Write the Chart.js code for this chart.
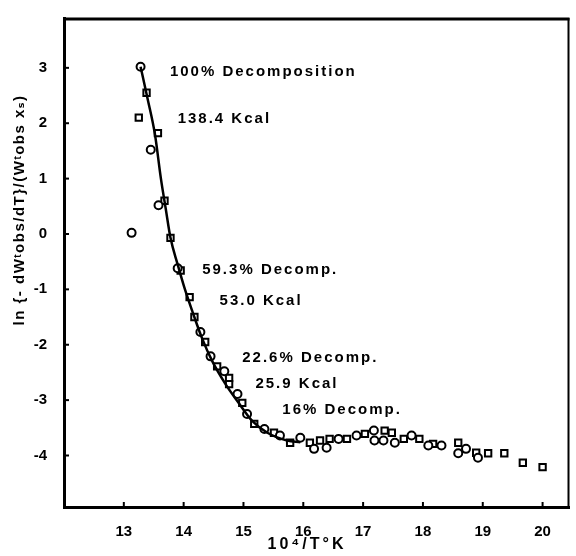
<!DOCTYPE html>
<html>
<head>
<meta charset="utf-8">
<script src="https://cdn.jsdelivr.net/npm/chart.js@4/dist/chart.umd.min.js"></script>
<style>
  html, body { margin: 0; padding: 0; background: #fff; }
  #wrap { width: 576px; height: 556px; position: relative; }
</style>
</head>
<body>
<div id="wrap"><canvas id="arrhenius"></canvas></div>
<script>
// tick positions
const xTicks = [13, 14, 15, 16, 17, 18, 19, 20];
const yTicks = [-4, -3, -2, -1, 0, 1, 2, 3];

// open circles
const circleX = [13.28, 13.45, 13.58, 13.13, 13.9, 14.28, 14.45, 14.68, 14.9, 15.06, 15.35,
  15.61, 15.95, 16.18, 16.39, 16.59, 16.89, 17.18, 17.19, 17.34, 17.53, 17.81, 18.09, 18.31, 18.59, 18.72, 18.92];
const circleY = [3.02, 1.52, 0.52, 0.02, -0.62, -1.77, -2.21, -2.48, -2.89, -3.25, -3.52,
  -3.64, -3.68, -3.88, -3.86, -3.7, -3.64, -3.55, -3.73, -3.73, -3.77, -3.64, -3.82, -3.82, -3.96, -3.88, -4.04];

// open squares
const squareX = [13.38, 13.25, 13.57, 13.68, 13.78, 13.95, 14.1, 14.18, 14.36, 14.56, 14.76, 14.76, 14.98, 15.18, 15.51,
  15.78, 16.11, 16.28, 16.44, 16.73, 17.03, 17.36, 17.48, 17.68, 17.94, 18.17, 18.59, 18.89, 19.09, 19.36, 19.67, 20.0];
const squareY = [2.55, 2.1, 1.82, 0.6, -0.07, -0.66, -1.14, -1.5, -1.95, -2.39, -2.6, -2.71, -3.05, -3.43, -3.59,
  -3.77, -3.77, -3.73, -3.7, -3.7, -3.61, -3.55, -3.59, -3.7, -3.7, -3.79, -3.77, -3.95, -3.96, -3.96, -4.13, -4.21];

// smooth curve drawn through the points
const fitX = [13.28, 13.4, 13.52, 13.62, 13.7, 13.78, 13.9, 14.01, 14.15, 14.31, 14.48, 14.7, 14.9, 15.15, 15.4, 15.73, 15.95];
const fitY = [3.02, 2.43, 1.8, 1.0, 0.46, -0.07, -0.55, -0.96, -1.41, -1.89, -2.3, -2.71, -3.02, -3.38, -3.59, -3.73, -3.76];

// annotations along the curve (text, left x, middle y in data units)
const noteText = ['100% Decomposition', '138.4 Kcal', '59.3% Decomp.', '53.0 Kcal', '22.6% Decomp.', '25.9 Kcal', '16% Decomp.'];
const noteX = [13.77, 13.9, 14.31, 14.6, 14.98, 15.2, 15.65];
const noteY = [2.93, 2.07, -0.64, -1.21, -2.23, -2.7, -3.18];

const FONT = '"Liberation Sans", "DejaVu Sans", sans-serif';

function pts(xs, ys) {
  return xs.map((x, i) => ({ x: x, y: ys[i] }));
}

const decorations = {
  id: 'decorations',
  afterDraw(chart) {
    const ctx = chart.ctx;
    const a = chart.chartArea;
    const sx = chart.scales.x, sy = chart.scales.y;
    ctx.save();
    ctx.strokeStyle = '#000';
    ctx.fillStyle = '#000';

    // top and right edges of the frame
    ctx.lineWidth = 3;
    ctx.beginPath();
    ctx.moveTo(a.left, a.top + 1);
    ctx.lineTo(a.right, a.top + 1);
    ctx.stroke();
    ctx.lineWidth = 2;
    ctx.beginPath();
    ctx.moveTo(a.right - 1, a.top);
    ctx.lineTo(a.right - 1, a.bottom);
    ctx.stroke();

    // short inward tick marks
    ctx.lineWidth = 2;
    xTicks.forEach(v => {
      const px = sx.getPixelForValue(v);
      ctx.beginPath();
      ctx.moveTo(px, a.bottom);
      ctx.lineTo(px, a.bottom - 5);
      ctx.stroke();
    });
    yTicks.forEach(v => {
      const py = sy.getPixelForValue(v);
      ctx.beginPath();
      ctx.moveTo(a.left, py);
      ctx.lineTo(a.left + 5, py);
      ctx.stroke();
    });

    // notes
    ctx.font = 'bold 15px ' + FONT;
    ctx.letterSpacing = '2px';
    ctx.textAlign = 'left';
    ctx.textBaseline = 'middle';
    noteText.forEach((t, i) => {
      ctx.fillText(t, sx.getPixelForValue(noteX[i]), sy.getPixelForValue(noteY[i]));
    });

    // axis titles
    ctx.font = 'bold 16px ' + FONT;
    ctx.letterSpacing = '3px';
    ctx.textAlign = 'center';
    ctx.fillText('10\u2074/T\u00B0K', 307, 545);

    ctx.translate(20, 210);
    ctx.rotate(-Math.PI / 2);
    ctx.font = 'bold 15px ' + FONT;
    ctx.letterSpacing = '1.5px';
    ctx.fillText('ln {- dW\u1D57obs/dT}/(W\u1D57obs x\u209B)', 0, 0);
    ctx.restore();
  }
};

new Chart(document.getElementById('arrhenius'), {
  type: 'scatter',
  data: {
    datasets: [
      {
        type: 'line',
        label: 'fit',
        data: pts(fitX, fitY),
        borderColor: '#000',
        borderWidth: 2.5,
        pointRadius: 0,
        cubicInterpolationMode: 'monotone',
        fill: false
      },
      {
        label: 'circles',
        data: pts(circleX, circleY),
        pointStyle: 'circle',
        pointRadius: 4,
        borderColor: '#000',
        borderWidth: 2,
        backgroundColor: '#fff'
      },
      {
        label: 'squares',
        data: pts(squareX, squareY),
        pointStyle: 'rect',
        pointRadius: 4.5,
        borderColor: '#000',
        borderWidth: 2,
        backgroundColor: '#fff'
      }
    ]
  },
  options: {
    responsive: true,
    maintainAspectRatio: false,
    animation: false,
    layout: { padding: { top: 12, right: 3, left: 0, bottom: 0 } },
    plugins: {
      legend: { display: false },
      tooltip: { enabled: false }
    },
    scales: {
      x: {
        type: 'linear',
        min: 12,
        max: 20.45,
        afterBuildTicks: s => { s.ticks = xTicks.map(v => ({ value: v })); },
        afterFit: s => { s.height = 49; },
        grid: { display: false },
        border: { display: true, color: '#000', width: 3 },
        ticks: {
          color: '#000',
          padding: 8,
          font: { family: FONT, size: 15, weight: 'bold' }
        }
      },
      y: {
        type: 'linear',
        min: -4.93,
        max: 3.9,
        afterBuildTicks: s => { s.ticks = yTicks.map(v => ({ value: v })); },
        afterFit: s => { s.width = 64; },
        grid: { display: false },
        border: { display: true, color: '#000', width: 3 },
        ticks: {
          color: '#000',
          padding: 9,
          font: { family: FONT, size: 15, weight: 'bold' }
        }
      }
    }
  },
  plugins: [decorations]
});
</script>
</body>
</html>
